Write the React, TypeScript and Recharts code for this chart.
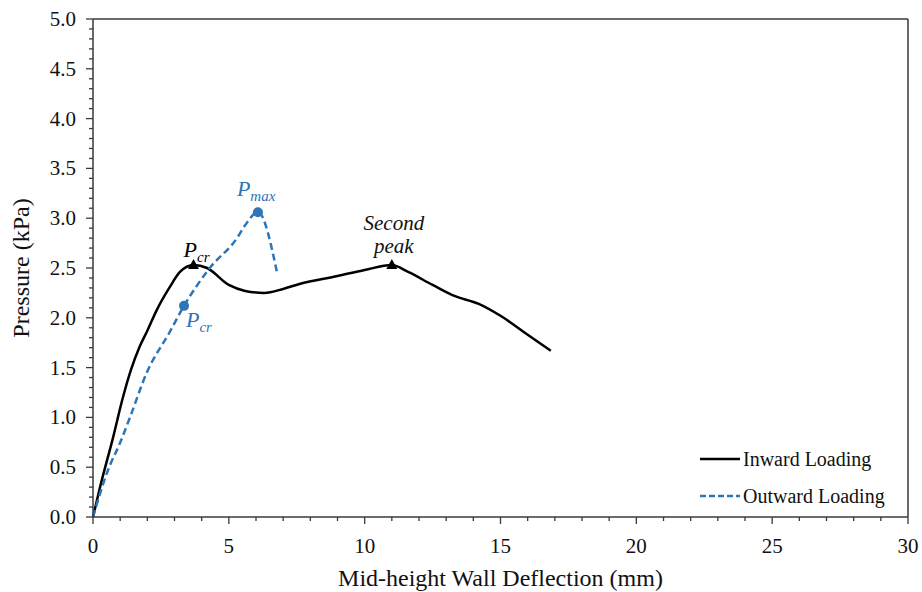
import React from 'react';
import {
  ComposedChart,
  Line,
  XAxis,
  YAxis,
  ReferenceDot,
  ReferenceLine,
  Legend,
} from 'recharts';

const inwardX = [0, 0.26, 0.74, 1.1, 1.4, 1.7, 2.0, 2.35, 2.83, 3.2, 3.7, 4.2, 5.0, 5.6, 6.3, 7.0, 7.6, 9.0, 10.0, 11.0, 11.6, 12.5, 13.3, 14.2, 15.0, 16.0, 16.85];
const inwardY = [0, 0.3, 0.8, 1.2, 1.48, 1.7, 1.87, 2.08, 2.31, 2.46, 2.53, 2.5, 2.33, 2.27, 2.25, 2.29, 2.34, 2.42, 2.48, 2.53, 2.46, 2.33, 2.22, 2.14, 2.02, 1.83, 1.67];

const outwardX = [0, 0.55, 0.99, 1.36, 1.98, 2.83, 3.35, 4.3, 5.3, 5.6, 6.07, 6.77];
const outwardY = [0, 0.47, 0.74, 1.0, 1.45, 1.86, 2.12, 2.5, 2.8, 2.93, 3.06, 2.46];

const xTicks = Array.from({ length: 31 }, (_, i) => i);
const yTicks = Array.from({ length: 51 }, (_, i) => i / 10);

const inward = inwardX.map((x, i) => ({ x, y: inwardY[i] }));
const outward = outwardX.map((x, i) => ({ x, y: outwardY[i] }));

const BLUE = '#2E75B6';
const AXIS = '#3a3a3a';
const FONT = "'Liberation Serif', 'Times New Roman', 'DejaVu Serif', serif";

const XTick = ({ x, y, payload }: any) => {
  const major = payload.value % 5 === 0;
  return (
    <g>
      <line x1={x} x2={x} y1={y} y2={y + (major ? 7 : 4)} stroke={AXIS} strokeWidth={1.3} />
      {major && (
        <text x={x} y={y + 36} textAnchor="middle" style={{ fontFamily: FONT, fontSize: 21 }} fill="#111">
          {payload.value}
        </text>
      )}
    </g>
  );
};

const YTick = ({ x, y, payload }: any) => {
  const major = Math.round(payload.value * 10) % 5 === 0;
  return (
    <g>
      <line x1={x} x2={x - (major ? 7 : 4)} y1={y} y2={y} stroke={AXIS} strokeWidth={1.3} />
      {major && (
        <text x={x - 17} y={y + 7} textAnchor="end" style={{ fontFamily: FONT, fontSize: 21 }} fill="#111">
          {payload.value.toFixed(1)}
        </text>
      )}
    </g>
  );
};

const Triangle = ({ cx, cy }: any) => (
  <polygon points={`${cx},${cy - 6} ${cx - 5.5},${cy + 4} ${cx + 5.5},${cy + 4}`} fill="#000" />
);

const SubLabel = ({ x, y, main, sub, color }: any) => (
  <text x={x} y={y} style={{ fontFamily: FONT, fontStyle: 'italic' }} fill={color}>
    <tspan style={{ fontSize: 22 }}>{main}</tspan>
    <tspan style={{ fontSize: 15 }} dy={5}>{sub}</tspan>
  </text>
);

const LegendBox = () => (
  <svg width={220} height={70}>
    <line x1={2} x2={42} y1={19} y2={19} stroke="#000" strokeWidth={2.5} />
    <text x={45} y={26} style={{ fontFamily: FONT, fontSize: 20 }} fill="#111">Inward Loading</text>
    <line x1={2} x2={42} y1={56} y2={56} stroke={BLUE} strokeWidth={2.5} strokeDasharray="6 3" />
    <text x={45} y={63} style={{ fontFamily: FONT, fontSize: 20 }} fill="#111">Outward Loading</text>
  </svg>
);

export default function App() {
  return (
    <div style={{ width: 922, height: 592, background: '#fff', fontFamily: FONT }}>
      <style>{'body{margin:0}'}</style>
      <ComposedChart width={922} height={592} margin={{ top: 19, right: 14, left: 0, bottom: 0 }}>
        <XAxis
          dataKey="x"
          type="number"
          domain={[0, 30]}
          ticks={xTicks}
          interval={0}
          tickSize={0}
          tickMargin={0}
          tickLine={false}
          tick={<XTick />}
          height={75}
          axisLine={{ stroke: AXIS, strokeWidth: 1.5 }}
          label={{
            value: 'Mid-height Wall Deflection (mm)',
            position: 'insideBottom',
            offset: 0,
            dy: -6,
            style: { fontFamily: FONT, fontSize: 24, fill: '#111' },
          }}
        />
        <YAxis
          dataKey="y"
          type="number"
          domain={[0, 5]}
          ticks={yTicks}
          interval={0}
          tickSize={0}
          tickMargin={0}
          tickLine={false}
          tick={<YTick />}
          width={93}
          axisLine={{ stroke: AXIS, strokeWidth: 1.5 }}
          label={{
            value: 'Pressure (kPa)',
            angle: -90,
            position: 'insideLeft',
            offset: 0,
            dx: 20,
            style: { fontFamily: FONT, fontSize: 24, fill: '#111', textAnchor: 'middle' },
          }}
        />
        <ReferenceLine x={30} stroke={AXIS} strokeWidth={1.5} />
        <ReferenceLine y={5} stroke={AXIS} strokeWidth={1.5} />
        <Line
          data={inward}
          dataKey="y"
          type="monotone"
          stroke="#000"
          strokeWidth={2.5}
          dot={false}
          isAnimationActive={false}
          name="Inward Loading"
        />
        <Line
          data={outward}
          dataKey="y"
          type="monotone"
          stroke={BLUE}
          strokeWidth={2.5}
          strokeDasharray="7 4"
          dot={false}
          isAnimationActive={false}
          name="Outward Loading"
        />
        <ReferenceDot
          x={inwardX[10]}
          y={inwardY[10]}
          shape={(p: any) => (
            <g>
              <Triangle cx={p.cx} cy={p.cy} />
              <SubLabel x={p.cx - 10} y={p.cy - 8} main="P" sub="cr" color="#000" />
            </g>
          )}
        />
        <ReferenceDot
          x={inwardX[19]}
          y={inwardY[19]}
          shape={(p: any) => (
            <g>
              <Triangle cx={p.cx} cy={p.cy} />
              <text style={{ fontFamily: FONT, fontStyle: 'italic', fontSize: 21 }} fill="#111" textAnchor="middle">
                <tspan x={p.cx + 2} y={p.cy - 35}>Second</tspan>
                <tspan x={p.cx + 2} y={p.cy - 12}>peak</tspan>
              </text>
            </g>
          )}
        />
        <ReferenceDot
          x={outwardX[6]}
          y={outwardY[6]}
          shape={(p: any) => (
            <g>
              <circle cx={p.cx} cy={p.cy} r={5} fill={BLUE} />
              <SubLabel x={p.cx + 2} y={p.cy + 21} main="P" sub="cr" color={BLUE} />
            </g>
          )}
        />
        <ReferenceDot
          x={outwardX[10]}
          y={outwardY[10]}
          shape={(p: any) => (
            <g>
              <circle cx={p.cx} cy={p.cy} r={5} fill={BLUE} />
              <SubLabel x={p.cx - 21} y={p.cy - 16} main="P" sub="max" color={BLUE} />
            </g>
          )}
        />
        <Legend
          layout="vertical"
          align="center"
          verticalAlign="middle"
          content={<LegendBox />}
          wrapperStyle={{ position: 'absolute', left: 698, top: 440, width: 220, height: 70 }}
        />
      </ComposedChart>
    </div>
  );
}
